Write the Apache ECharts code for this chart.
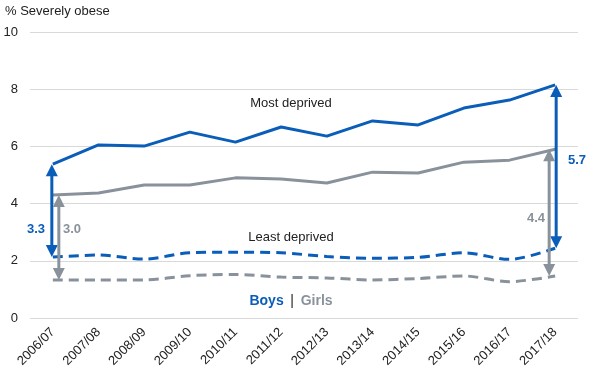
<!DOCTYPE html>
<html>
<head>
<meta charset="utf-8">
<script src="https://cdn.jsdelivr.net/npm/echarts@6/dist/echarts.min.js"></script>
<style>
html,body{margin:0;padding:0;background:#fff;}
#chart{width:592px;height:378px;}
</style>
</head>
<body>
<div id="chart"></div>
<script>
var categories = ['2006/07','2007/08','2008/09','2009/10','2010/11','2011/12','2012/13','2013/14','2014/15','2015/16','2016/17','2017/18'];
var boysMost  = [5.38, 6.05, 6.01, 6.50, 6.15, 6.68, 6.36, 6.89, 6.75, 7.34, 7.62, 8.15];
var girlsMost = [4.30, 4.37, 4.65, 4.65, 4.90, 4.86, 4.72, 5.10, 5.07, 5.45, 5.52, 5.90];
var boysLeast = [2.13, 2.20, 2.06, 2.28, 2.30, 2.28, 2.15, 2.09, 2.12, 2.28, 2.05, 2.44];
var girlsLeast= [1.33, 1.33, 1.33, 1.48, 1.52, 1.43, 1.40, 1.33, 1.38, 1.47, 1.27, 1.47];
var yTicks = [0, 2, 4, 6, 8, 10];
// gap arrows drawn at these category indexes
var gapIndexes = [0, 11];
var gapLabelsBoys = ['3.3', '5.7'];
var gapLabelsGirls = ['3.0', '4.4'];

var BLUE = '#0a5db8';
var GRAY = '#89929b';

var arrowData = [];
gapIndexes.forEach(function (idx, k) {
  arrowData.push([idx, boysMost[idx], boysLeast[idx], 0, k]);
  arrowData.push([idx, girlsMost[idx], girlsLeast[idx], 1, k]);
});

function renderArrow(params, api) {
  var idx = api.value(0);
  var top = api.coord([idx, api.value(1)]);
  var bot = api.coord([idx, api.value(2)]);
  var isGirl = api.value(3) === 1;
  var side = api.value(4);
  var dx;
  if (side === 0) dx = isGirl ? 6 : -1;
  else dx = isGirl ? -6 : 1;
  var x = top[0] + dx;
  var color = isGirl ? GRAY : BLUE;
  var hl = 12, hw = 6;
  return {
    type: 'group',
    children: [
      {type: 'line', shape: {x1: x, y1: top[1] + hl - 1, x2: x, y2: bot[1] - hl + 1},
       style: {stroke: color, lineWidth: 3}},
      {type: 'polygon', shape: {points: [[x, top[1]], [x - hw, top[1] + hl], [x + hw, top[1] + hl]]},
       style: {fill: color}},
      {type: 'polygon', shape: {points: [[x, bot[1]], [x - hw, bot[1] - hl], [x + hw, bot[1] - hl]]},
       style: {fill: color}}
    ]
  };
}

var chart = echarts.init(document.getElementById('chart'));
var font = 'Liberation Sans, Arial, sans-serif';
chart.setOption({
  animation: false,
  textStyle: {fontFamily: font},
  title: {
    text: '% Severely obese', left: 5, top: 5, padding: 0,
    textStyle: {fontSize: 13, fontWeight: 'normal', color: '#222', fontFamily: font}
  },
  grid: {left: 30, right: 14, top: 32, bottom: 60},
  xAxis: {
    type: 'category', data: categories, boundaryGap: true,
    axisLine: {show: false}, axisTick: {show: false},
    axisLabel: {rotate: 45, fontSize: 13, color: '#222', margin: 12, interval: 0, fontFamily: font}
  },
  yAxis: {
    type: 'value', min: yTicks[0], max: yTicks[yTicks.length - 1], interval: 2,
    axisLine: {show: false}, axisTick: {show: false},
    axisLabel: {fontSize: 13, color: '#222', margin: 12, fontFamily: font},
    splitLine: {lineStyle: {color: '#d9d9d9', width: 1}}
  },
  series: [
    {type: 'line', data: girlsLeast, symbol: 'none', smooth: 0.3,
     lineStyle: {color: GRAY, width: 3, type: [10, 6]}},
    {type: 'line', data: boysLeast, symbol: 'none', smooth: 0.3,
     lineStyle: {color: BLUE, width: 3, type: [10, 6]}},
    {type: 'line', data: girlsMost, symbol: 'none', smooth: false,
     lineStyle: {color: GRAY, width: 3}},
    {type: 'line', data: boysMost, symbol: 'none', smooth: false,
     lineStyle: {color: BLUE, width: 3}},
    {type: 'custom', renderItem: renderArrow, data: arrowData, z: 5, silent: true}
  ],
  graphic: [
    {type: 'text', style: {text: 'Most deprived', x: 291, y: 103, align: 'center', verticalAlign: 'middle', fontSize: 13, fill: '#222', fontFamily: font}},
    {type: 'text', style: {text: 'Least deprived', x: 291, y: 237, align: 'center', verticalAlign: 'middle', fontSize: 13, fill: '#222', fontFamily: font}},
    {type: 'text', style: {text: gapLabelsBoys[0], x: 36, y: 229, align: 'center', verticalAlign: 'middle', fontSize: 13, fontWeight: 'bold', fill: BLUE, fontFamily: font}},
    {type: 'text', style: {text: gapLabelsGirls[0], x: 72, y: 229, align: 'center', verticalAlign: 'middle', fontSize: 13, fontWeight: 'bold', fill: GRAY, fontFamily: font}},
    {type: 'text', style: {text: gapLabelsBoys[1], x: 577, y: 160, align: 'center', verticalAlign: 'middle', fontSize: 13, fontWeight: 'bold', fill: BLUE, fontFamily: font}},
    {type: 'text', style: {text: gapLabelsGirls[1], x: 536, y: 218, align: 'center', verticalAlign: 'middle', fontSize: 13, fontWeight: 'bold', fill: GRAY, fontFamily: font}},
    {type: 'text', style: {
      text: '{b|Boys}  {s||}  {g|Girls}', x: 291, y: 301, align: 'center', verticalAlign: 'middle',
      rich: {
        b: {fontSize: 14, fontWeight: 'bold', fill: BLUE, color: BLUE, fontFamily: font},
        s: {fontSize: 14, fill: '#222', color: '#222', fontFamily: font},
        g: {fontSize: 14, fontWeight: 'bold', fill: GRAY, color: GRAY, fontFamily: font}
      }
    }}
  ]
});
</script>
</body>
</html>
